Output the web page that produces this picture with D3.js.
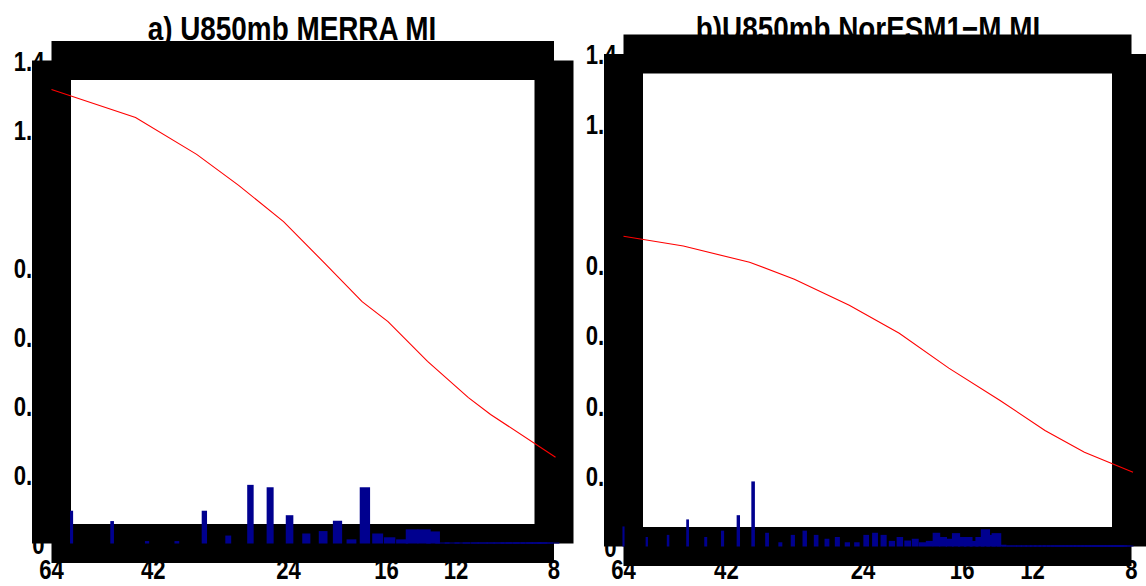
<!doctype html>
<html>
  <head>
    <meta charset="utf-8">
    <title>U850mb MI spectra</title>
    <script src="https://cdnjs.cloudflare.com/ajax/libs/d3/7.8.5/d3.min.js"></script>
    <style>
      body { margin: 0; background: #fff; }
      svg text {
        font-family: "Liberation Sans", Arial, sans-serif;
        font-weight: bold;
        fill: #000;
      }
    </style>
  </head>
  <body>
    <div id="chart"></div>
    <script>

    // tick values shared by both panels
    const xTicks = [64, 42, 24, 16, 12, 8];
    const yTicks = [0, 0.2, 0.4, 0.6, 0.8, 1, 1.2, 1.4];
    const yTickLabels = ["0", "0.2", "0.4", "0.6", "0.8", "1", "1.2", "1.4"];

    // a) MERRA : red curve
    const merraLinePeriods = [64, 45.2, 35.1, 29.5, 24.5, 20.8, 17.7, 15.9, 13.5, 11.4, 10.4, 7.95];
    const merraLineValues  = [1.316, 1.235, 1.128, 1.038, 0.933, 0.817, 0.701, 0.643, 0.528, 0.423, 0.374, 0.25];

    // a) MERRA : blue bars
    const merraBarPeriods = [58.9, 49.8, 43.1, 38.1, 34.0, 30.8, 28.1, 25.9, 23.9, 22.3, 20.8, 19.6,
                             18.5, 17.5, 16.6, 15.8, 15.0, 14.4, 13.7, 13.2, 12.7, 12.2, 11.7, 11.3,
                             10.9, 10.6, 10.2, 9.9, 9.6, 9.4, 9.1, 8.8, 8.6, 8.4, 8.2];
    const merraBarValues  = [0.095, 0.065, 0.007, 0.007, 0.095, 0.023, 0.170, 0.163, 0.082, 0.029, 0.036, 0.066,
                             0.012, 0.163, 0.029, 0.018, 0.012, 0.041, 0.041, 0.035, 0.002, 0.002, 0.002, 0.002,
                             0.002, 0.002, 0.002, 0.002, 0.002, 0.002, 0.002, 0.002, 0.002, 0.002, 0.002];

    // b) NorESM1-M : red curve
    const noresmLinePeriods = [64, 50.1, 38.2, 31.8, 25.4, 20.7, 16.9, 13.7, 11.4, 9.7, 7.95];
    const noresmLineValues  = [0.882, 0.854, 0.808, 0.760, 0.686, 0.606, 0.507, 0.415, 0.330, 0.268, 0.211];

    // b) NorESM1-M : blue bars
    const noresmBarPeriods = [64.0, 58.18, 53.33, 49.23, 45.71, 42.67, 40.0, 37.65, 35.56, 33.68,
                              32.0, 30.48, 29.09, 27.83, 26.67, 25.6, 24.62, 23.7, 22.86, 22.07,
                              21.33, 20.65, 20.0, 19.39, 18.82, 18.29, 17.78, 17.3, 16.84, 16.41,
                              16.0, 15.61, 15.24, 14.88, 14.55, 14.22, 13.91, 13.62, 13.33, 13.06,
                              12.8, 12.55, 12.31, 12.08, 11.85, 11.64, 11.43, 11.23, 11.03, 10.85,
                              10.67, 10.49, 10.32, 10.16, 10.0, 9.85, 9.7, 9.55, 9.41, 9.28,
                              9.14, 9.01, 8.89, 8.77, 8.65, 8.53, 8.42, 8.31, 8.21];
    const noresmBarValues  = [0.057, 0.027, 0.033, 0.077, 0.027, 0.045, 0.089, 0.185, 0.039, 0.012,
                              0.033, 0.045, 0.033, 0.022, 0.027, 0.012, 0.012, 0.033, 0.039, 0.033,
                              0.016, 0.027, 0.017, 0.022, 0.012, 0.016, 0.039, 0.027, 0.022, 0.038,
                              0.027, 0.027, 0.016, 0.027, 0.049, 0.033, 0.038, 0.005, 0.002, 0.002,
                              0.002, 0.002, 0.002, 0.002, 0.002, 0.002, 0.002, 0.002, 0.002, 0.002,
                              0.002, 0.002, 0.002, 0.002, 0.002, 0.002, 0.002, 0.002, 0.002, 0.002,
                              0.002, 0.002, 0.002, 0.002, 0.002, 0.002, 0.002, 0.002, 0.002];

    const svg = d3.select('#chart')
      .append('svg')
      .attr('width', 1146)
      .attr('height', 586);

    const frameWidth = 39;
    const narrow = 0.82; // squeeze Liberation Sans into a Helvetica-Narrow look

    function drawPanel(p) {
      const x = d3.scaleLog().domain([64, 8]).range([p.left, p.right]);
      const y = d3.scaleLinear().domain([0, 1.4]).range([p.bottom, p.top]);
      const g = svg.append('g');

      // title (sits under the frame, so panel b gets its feet cut)
      g.append('text')
        .attr('transform', `translate(${p.titleX},40) scale(${narrow},1)`)
        .attr('text-anchor', 'middle')
        .style('font-size', '34px')
        .text(p.title);

      // y tick labels, right aligned against the frame (mostly hidden by it)
      g.selectAll('.ylab')
        .data(yTicks)
        .join('text')
        .attr('class', 'ylab')
        .attr('transform', d => `translate(${p.left - 7},${y(d) + 10}) scale(${narrow},1)`)
        .attr('text-anchor', 'end')
        .style('font-size', '27px')
        .text((d, i) => yTickLabels[i]);

      // x tick labels
      g.selectAll('.xlab')
        .data(xTicks)
        .join('text')
        .attr('class', 'xlab')
        .attr('transform', d => `translate(${x(d)},579) scale(${narrow},1)`)
        .attr('text-anchor', 'middle')
        .style('font-size', '27px')
        .text(d => d);

      // the very thick axis box, butt ends -> notched corners
      const edges = [
        [p.left, p.top, p.right, p.top],
        [p.left, p.bottom, p.right, p.bottom],
        [p.left, p.top, p.left, p.bottom],
        [p.right, p.top, p.right, p.bottom]
      ];
      g.selectAll('.edge')
        .data(edges)
        .join('line')
        .attr('class', 'edge')
        .attr('x1', d => d[0]).attr('y1', d => d[1])
        .attr('x2', d => d[2]).attr('y2', d => d[3])
        .attr('stroke', '#000')
        .attr('stroke-width', frameWidth)
        .attr('stroke-linecap', 'butt');

      // bars (constant width in period units)
      const bars = p.barPeriods.map((d, i) => ({ period: d, value: p.barValues[i] }));
      g.selectAll('.bar')
        .data(bars)
        .join('rect')
        .attr('class', 'bar')
        .attr('x', d => x(d.period + p.barWidth / 2))
        .attr('width', d => Math.max(1.5, x(d.period - p.barWidth / 2) - x(d.period + p.barWidth / 2)))
        .attr('y', d => Math.min(y(d.value), y(0) - 1))
        .attr('height', d => Math.max(1, y(0) - y(d.value)))
        .style('fill', '#00008f');

      // red curve
      const pts = p.linePeriods.map((d, i) => [x(d), y(p.lineValues[i])]);
      g.append('path')
        .attr('d', d3.line()(pts))
        .attr('fill', 'none')
        .attr('stroke', '#ff0000')
        .attr('stroke-width', 1.1);
    }

    drawPanel({
      title: 'a) U850mb MERRA MI', titleX: 292,
      left: 51.5, right: 554, top: 60.5, bottom: 543.5,
      barWidth: 0.75,
      barPeriods: merraBarPeriods, barValues: merraBarValues,
      linePeriods: merraLinePeriods, lineValues: merraLineValues
    });

    drawPanel({
      title: 'b)U850mb NorESM1\u2212M MI', titleX: 868,
      left: 623.5, right: 1131.5, top: 54, bottom: 546.5,
      barWidth: 0.55,
      barPeriods: noresmBarPeriods, barValues: noresmBarValues,
      linePeriods: noresmLinePeriods, lineValues: noresmLineValues
    });

    </script>
  </body>
</html>
